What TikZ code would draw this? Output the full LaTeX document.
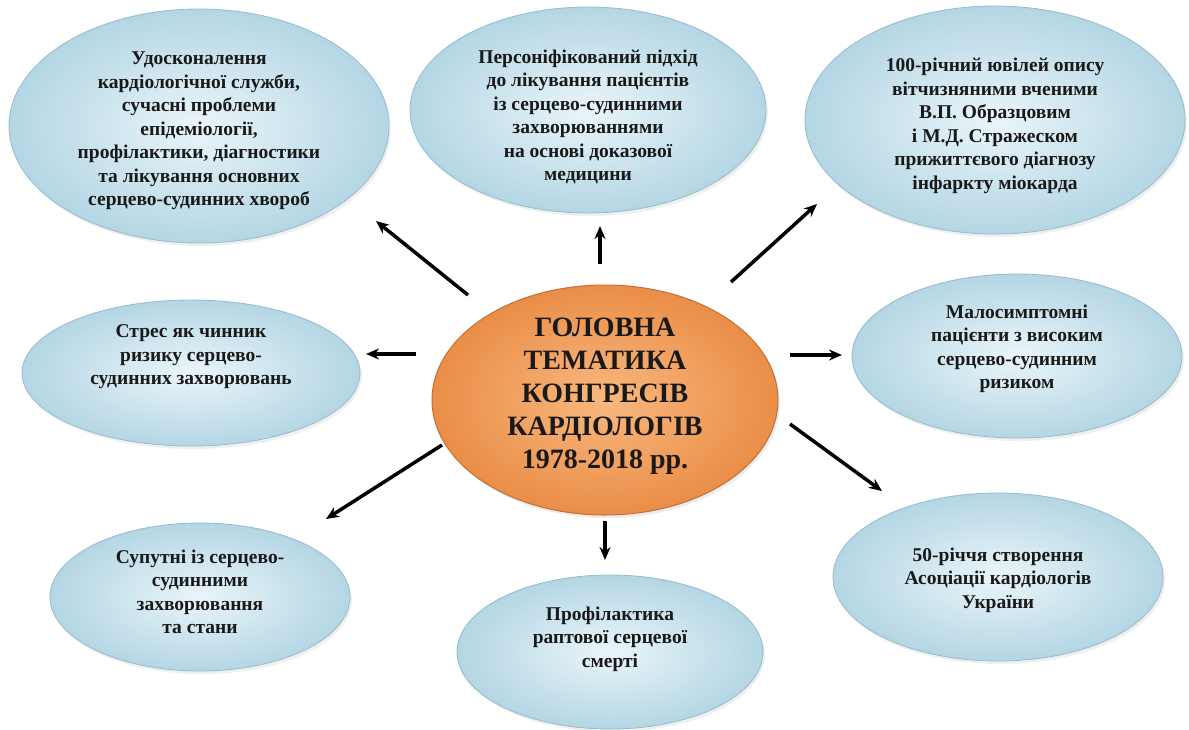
\documentclass[tikz,border=0pt]{standalone}
\usepackage{fontspec}
\setmainfont{Liberation Serif}
\usetikzlibrary{arrows.meta,shapes.geometric,shadows}
\definecolor{bin}{RGB}{234,245,250}
\definecolor{bout}{RGB}{180,214,228}
\definecolor{bdraw}{RGB}{150,188,204}
\definecolor{oin}{RGB}{248,184,126}
\definecolor{oout}{RGB}{234,142,72}
\definecolor{odraw}{RGB}{196,112,52}
\definecolor{txtc}{RGB}{25,25,25}
\tikzset{
  bubble/.style={ellipse, inner sep=0pt, draw=bdraw, line width=0.8pt,
    inner color=bin, outer color=bout, drop shadow={opacity=0.12, shadow xshift=2pt, shadow yshift=-3pt}},
  hub/.style={ellipse, inner sep=0pt, draw=odraw, line width=1pt,
    inner color=oin, outer color=oout, drop shadow={opacity=0.15, shadow xshift=2pt, shadow yshift=-3pt}},
  txt/.style={align=center, text=txtc, font=\bfseries\fontsize{19.5}{23.5}\selectfont, inner sep=0pt},
  hubtxt/.style={align=center, text=txtc, font=\bfseries\fontsize{28}{33}\selectfont, inner sep=0pt},
  conn/.style={line width=3.5pt, black, -{Stealth[length=13pt,width=11pt]}}
}
\begin{document}
\begin{tikzpicture}[x=1pt,y=-1pt]
\useasboundingbox (0,0) rectangle (1189,729);
\fill[white] (0,0) rectangle (1189,729);
% ellipses
\node[bubble, minimum width=380pt, minimum height=234pt] (e1) at (199,126) {};
\node[bubble, minimum width=356pt, minimum height=206pt] (e2) at (588,110) {};
\node[bubble, minimum width=380pt, minimum height=228pt] (e3) at (995,120) {};
\node[bubble, minimum width=338pt, minimum height=146pt] (e4) at (191,373) {};
\node[hub, minimum width=346pt, minimum height=230pt] (e0) at (605,400) {};
\node[bubble, minimum width=330pt, minimum height=164pt] (e5) at (1017,356) {};
\node[bubble, minimum width=300pt, minimum height=148pt] (e6) at (200,597) {};
\node[bubble, minimum width=306pt, minimum height=154pt] (e7) at (610,652) {};
\node[bubble, minimum width=330pt, minimum height=168pt] (e8) at (998,577) {};
% texts
\node[txt] (t1) at (199,131) {Удосконалення\\кардіологічної служби,\\сучасні проблеми\\епідеміології,\\профілактики, діагностики\\та лікування основних\\серцево-судинних хвороб};
\node[txt] (t2) at (588,117) {Персоніфікований підхід\\до лікування пацієнтів\\із серцево-судинними\\захворюваннями\\на основі доказової\\медицини};
\node[txt] (t3) at (995,126) {100-річний ювілей опису\\вітчизняними вченими\\В.П. Образцовим\\і М.Д. Стражеском\\прижиттєвого діагнозу\\інфаркту міокарда};
\node[txt] (t4) at (191,357) {Стрес як чинник\\ризику серцево-\\судинних захворювань};
\node[hubtxt] (t0) at (605,396) {ГОЛОВНА\\ТЕМАТИКА\\КОНГРЕСІВ\\КАРДІОЛОГІВ\\1978-2018 рр.};
\node[txt] (t5) at (1017,349) {Малосимптомні\\пацієнти з високим\\серцево-судинним\\ризиком};
\node[txt] (t6) at (200,592) {Супутні із серцево-\\судинними\\захворювання\\та стани};
\node[txt] (t7) at (610,639) {Профілактика\\раптової серцевої\\смерті};
\node[txt] (t8) at (998,580) {50-річчя створення\\Асоціації кардіологів\\України};
% arrow end points
\coordinate (a1s) at (468,295); \coordinate (a1e) at (376,221);
\coordinate (a2s) at (600,264); \coordinate (a2e) at (600,226);
\coordinate (a3s) at (731,282); \coordinate (a3e) at (817,204);
\coordinate (a4s) at (416,354); \coordinate (a4e) at (366,354);
\coordinate (a5s) at (790,355); \coordinate (a5e) at (842,355);
\coordinate (a6s) at (442,445); \coordinate (a6e) at (326,519);
\coordinate (a7s) at (790,424); \coordinate (a7e) at (882,491);
\coordinate (a8s) at (605,521); \coordinate (a8e) at (605,560);
\draw[conn] (a1s) -- (a1e);
\draw[conn] (a2s) -- (a2e);
\draw[conn] (a3s) -- (a3e);
\draw[conn] (a4s) -- (a4e);
\draw[conn] (a5s) -- (a5e);
\draw[conn] (a6s) -- (a6e);
\draw[conn] (a7s) -- (a7e);
\draw[conn] (a8s) -- (a8e);
\end{tikzpicture}
\end{document}
